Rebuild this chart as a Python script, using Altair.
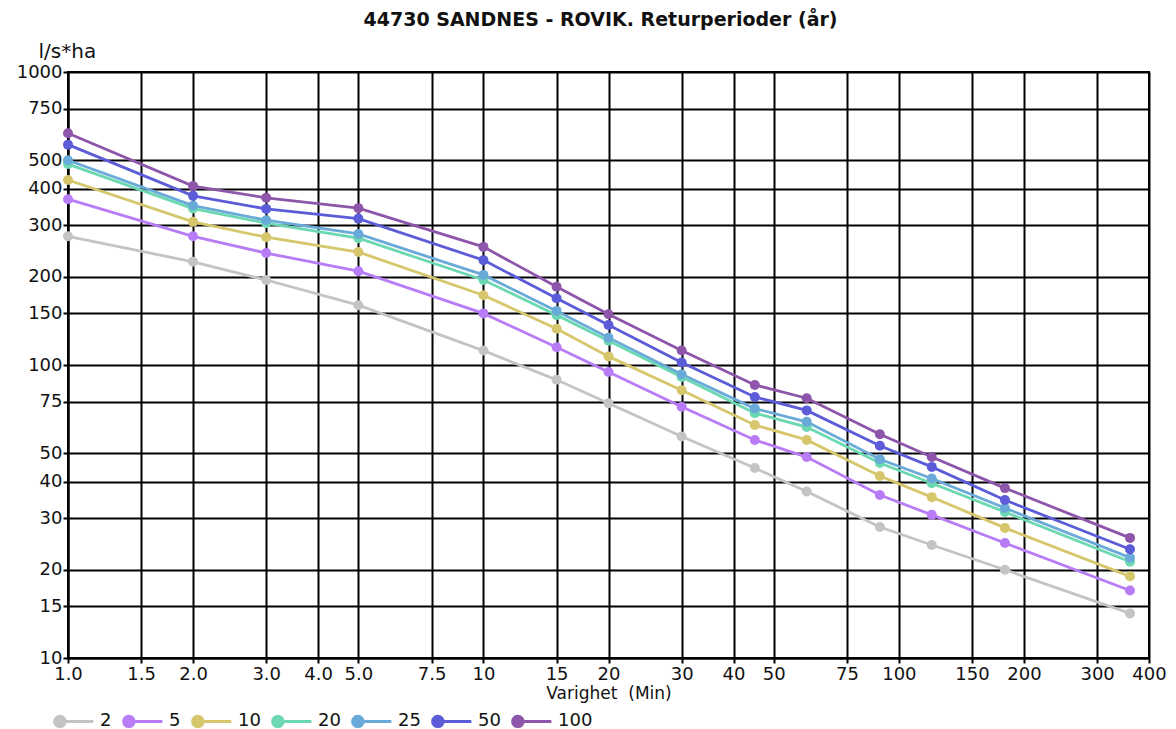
import altair as alt
import pandas as pd

durations = [1, 2, 3, 5, 10, 15, 20, 30, 45, 60, 90, 120, 180, 360]
periods = ["2", "5", "10", "20", "25", "50", "100"]
colors = ["#c4c4c4", "#b87cf6", "#d6c66c", "#6cd8b2", "#6aaad8", "#5c5cd8", "#8e56aa"]

v2 = [275, 225, 195, 160, 112, 89, 74, 57, 44.5, 37, 28, 24.3, 20, 14.2]
v5 = [368, 275, 241, 209, 150, 115, 94.6, 72, 55.5, 48.5, 36, 30.8, 24.7, 17]
v10 = [428, 308, 273, 243, 173, 133, 107, 82, 62.4, 55.5, 41.8, 35.4, 27.8, 19]
v20 = [485, 342, 305, 271, 195, 148, 121, 91, 68.5, 61.4, 46.3, 39.5, 31.5, 21.3]
v25 = [500, 350, 312, 280, 203, 153, 124, 93, 71, 64, 47.7, 41, 32.5, 22]
v50 = [565, 378, 341, 316, 228, 169, 137, 102, 77.8, 70, 53, 44.9, 34.6, 23.5]
v100 = [618, 408, 372, 343, 253, 185, 149, 112, 85.5, 77, 58, 48.5, 38, 25.7]

x_ticks = [1, 1.5, 2, 3, 4, 5, 7.5, 10, 15, 20, 30, 40, 50, 75, 100, 150, 200, 300, 400]
y_ticks = [10, 15, 20, 30, 40, 50, 75, 100, 150, 200, 300, 400, 500, 750, 1000]

series = [v2, v5, v10, v20, v25, v50, v100]
rows = []
for p, vals in zip(periods, series):
    for d, v in zip(durations, vals):
        rows.append({"Varighet": d, "Intensitet": v, "Periode": p})
df = pd.DataFrame(rows)

FONT = "DejaVu Sans"

x_enc = alt.X(
    "Varighet:Q",
    scale=alt.Scale(type="log", domain=[1, 400], nice=False),
    axis=alt.Axis(
        values=x_ticks,
        labelExpr="datum.value < 10 ? format(datum.value, '.1f') : format(datum.value, 'd')",
        title="Varighet\u00a0\u00a0(Min)",
        titlePadding=2,
        labelFlush=False,
        labelPadding=2,
    ),
)
y_enc = alt.Y(
    "Intensitet:Q",
    scale=alt.Scale(type="log", domain=[10, 1000], nice=False),
    axis=alt.Axis(
        values=y_ticks,
        format="d",
        title="l/s*ha",
        titleAngle=0,
        titleAlign="left",
        titleBaseline="bottom",
        titleX=-30,
        titleY=-11,
        titleFontSize=20,
        labelFlush=False,
        labelPadding=1,
    ),
)
color_enc = alt.Color(
    "Periode:N",
    scale=alt.Scale(domain=periods, range=colors),
    sort=periods,
    legend=alt.Legend(
        title=None,
        orient="none",
        direction="horizontal",
        legendX=-15,
        legendY=628,
        symbolType="M-1,0 A0.27,0.27 0 1,1 -0.46,0 A0.27,0.27 0 1,1 -1,0 Z M-0.73,0 L1,0",
        symbolSize=1500,
        symbolStrokeWidth=3,
        symbolOpacity=1,
        labelFontSize=18,
        labelFont=FONT,
        labelColor="#111111",
        columnPadding=5,
        labelOffset=5,
    ),
)

base = alt.Chart(df).encode(x=x_enc, y=y_enc, color=color_enc)
lines = base.mark_line(strokeWidth=2.8)
points = base.mark_point(filled=True, size=100, opacity=1)

chart = (
    alt.layer(lines, points)
    .properties(
        width=1081,
        height=586,
        title=alt.TitleParams(
            "44730 SANDNES - ROVIK. Returperioder (år)",
            fontSize=19,
            font=FONT,
            fontWeight="bold",
            frame="group",
            anchor="middle",
            offset=11,
            dx=-8,
            color="#111111",
        ),
        autosize=alt.AutoSizeParams(type="none"),
        padding={"left": 60, "top": 64, "right": 19, "bottom": 71},
    )
    .configure_view(stroke="black", strokeWidth=2)
    .configure_axis(
        grid=True,
        gridColor="black",
        gridWidth=2,
        gridOpacity=1,
        domainColor="black",
        domainWidth=2,
        tickColor="black",
        tickSize=5,
        tickWidth=2,
        labelFont=FONT,
        labelFontSize=18,
        labelColor="#111111",
        titleFont=FONT,
        titleFontSize=17,
        titleFontWeight="normal",
        titleColor="#111111",
    )
)

chart.save("out.html", embed_options={"renderer": "svg", "actions": False})
